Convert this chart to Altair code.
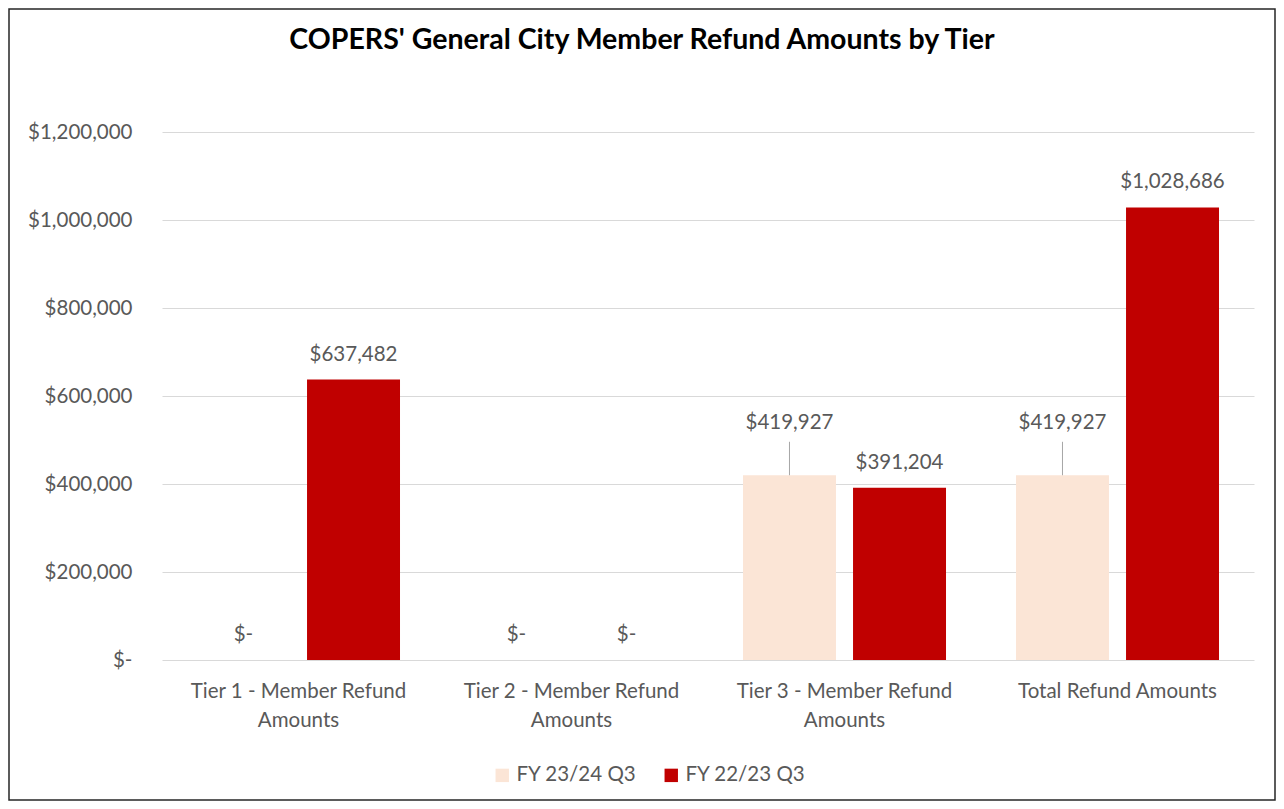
import altair as alt
import pandas as pd

categories = [
    "Tier 1 - Member Refund|Amounts",
    "Tier 2 - Member Refund|Amounts",
    "Tier 3 - Member Refund|Amounts",
    "Total Refund Amounts",
]
series = ["FY 23/24 Q3", "FY 22/23 Q3"]
fy2324 = [0, 0, 419927, 419927]
fy2223 = [637482, 0, 391204, 1028686]
colors = ["#FBE5D6", "#C00000"]
y_ticks = [0, 200000, 400000, 600000, 800000, 1000000, 1200000]
title_text = "COPERS' General City Member Refund Amounts by Tier"

rows = []
for i, c in enumerate(categories):
    rows.append({"category": c, "series": series[0], "value": fy2324[i]})
    rows.append({"category": c, "series": series[1], "value": fy2223[i]})
df = pd.DataFrame(rows)

FONT = "Lato"
GRAY = "#595959"
FS = 20.5
W, H = 1092, 528
PL, PT, PR, PB = 154, 124, 22, 141

x_enc = alt.X(
    "category:N",
    sort=categories,
    scale=alt.Scale(paddingInner=0, paddingOuter=0),
    axis=alt.Axis(
        title=None,
        labelExpr="split(datum.label, '|')",
        labelAngle=0,
        ticks=False,
        domain=False,
        labelFontSize=FS,
        labelLineHeight=29.5,
        labelPadding=21,
        labelColor=GRAY,
        labelFont=FONT,
        labelLimit=400,
    ),
)
xo_enc = alt.XOffset(
    "series:N", sort=series, scale=alt.Scale(paddingInner=0.155, paddingOuter=0.318)
)
y_enc = alt.Y(
    "value:Q",
    scale=alt.Scale(domain=[0, 1200000], nice=False),
    axis=alt.Axis(
        title=None,
        values=y_ticks,
        labelExpr="datum.value == 0 ? '$-' : '$' + format(datum.value, ',')",
        ticks=False,
        domain=False,
        labelPadding=30,
        labelFontSize=FS,
        labelColor=GRAY,
        labelFont=FONT,
        gridColor="#D9D9D9",
        gridWidth=1.2,
    ),
)
color_enc = alt.Color(
    "series:N",
    sort=series,
    scale=alt.Scale(domain=series, range=colors),
    legend=alt.Legend(
        title=None,
        orient="none",
        direction="horizontal",
        legendX=330,
        legendY=633,
        symbolType="square",
        symbolSize=180,
        symbolStrokeWidth=0,
        labelFontSize=FS,
        labelColor=GRAY,
        labelFont=FONT,
        labelOffset=4,
        columnPadding=24,
        labelLimit=300,
    ),
)

base = alt.Chart(df).transform_calculate(
    label="datum.value == 0 ? '$-' : '$' + format(datum.value, ',')",
    is_raised="datum.series == 'FY 23/24 Q3' && datum.value > 0",
    lead_top="datum.value + 76000",
)

bars = base.mark_bar().encode(x=x_enc, xOffset=xo_enc, y=y_enc, color=color_enc)

labels = base.transform_filter("!datum.is_raised").mark_text(
    baseline="bottom", dy=-15, fontSize=FS, font=FONT, color=GRAY
).encode(x=x_enc, xOffset=xo_enc, y=y_enc, text="label:N")

raised = base.transform_filter("datum.is_raised").mark_text(
    baseline="bottom", dy=-42, fontSize=FS, font=FONT, color=GRAY
).encode(x=x_enc, xOffset=xo_enc, y=y_enc, text="label:N")

leaders = base.transform_filter("datum.is_raised").mark_rule(
    color="#A6A6A6", strokeWidth=1
).encode(x=x_enc, xOffset=xo_enc, y=y_enc, y2="lead_top:Q")

deco = alt.Chart(pd.DataFrame({"t": [title_text]}))

frame = deco.mark_rect(
    fillOpacity=0, stroke="#262626", strokeWidth=1.5
).encode(
    x=alt.value(-PL + 1),
    x2=alt.value(W + PR - 1),
    y=alt.value(-PT + 1),
    y2=alt.value(H + PB - 1),
)

title = deco.mark_text(
    font=FONT, fontSize=28.5, fontWeight="bold", color="black",
    align="center", baseline="middle",
).encode(text="t:N", x=alt.value(W / 2 - 66), y=alt.value(-92))

chart = alt.layer(bars, leaders, labels, raised, frame, title).properties(
    width=W,
    height=H,
    padding={"left": PL, "top": PT, "right": PR, "bottom": PB},
    autosize=alt.AutoSizeParams(type="none"),
    background="white",
).configure_view(stroke=None)

chart.save("out.html", embed_options={"renderer": "svg", "actions": False})
